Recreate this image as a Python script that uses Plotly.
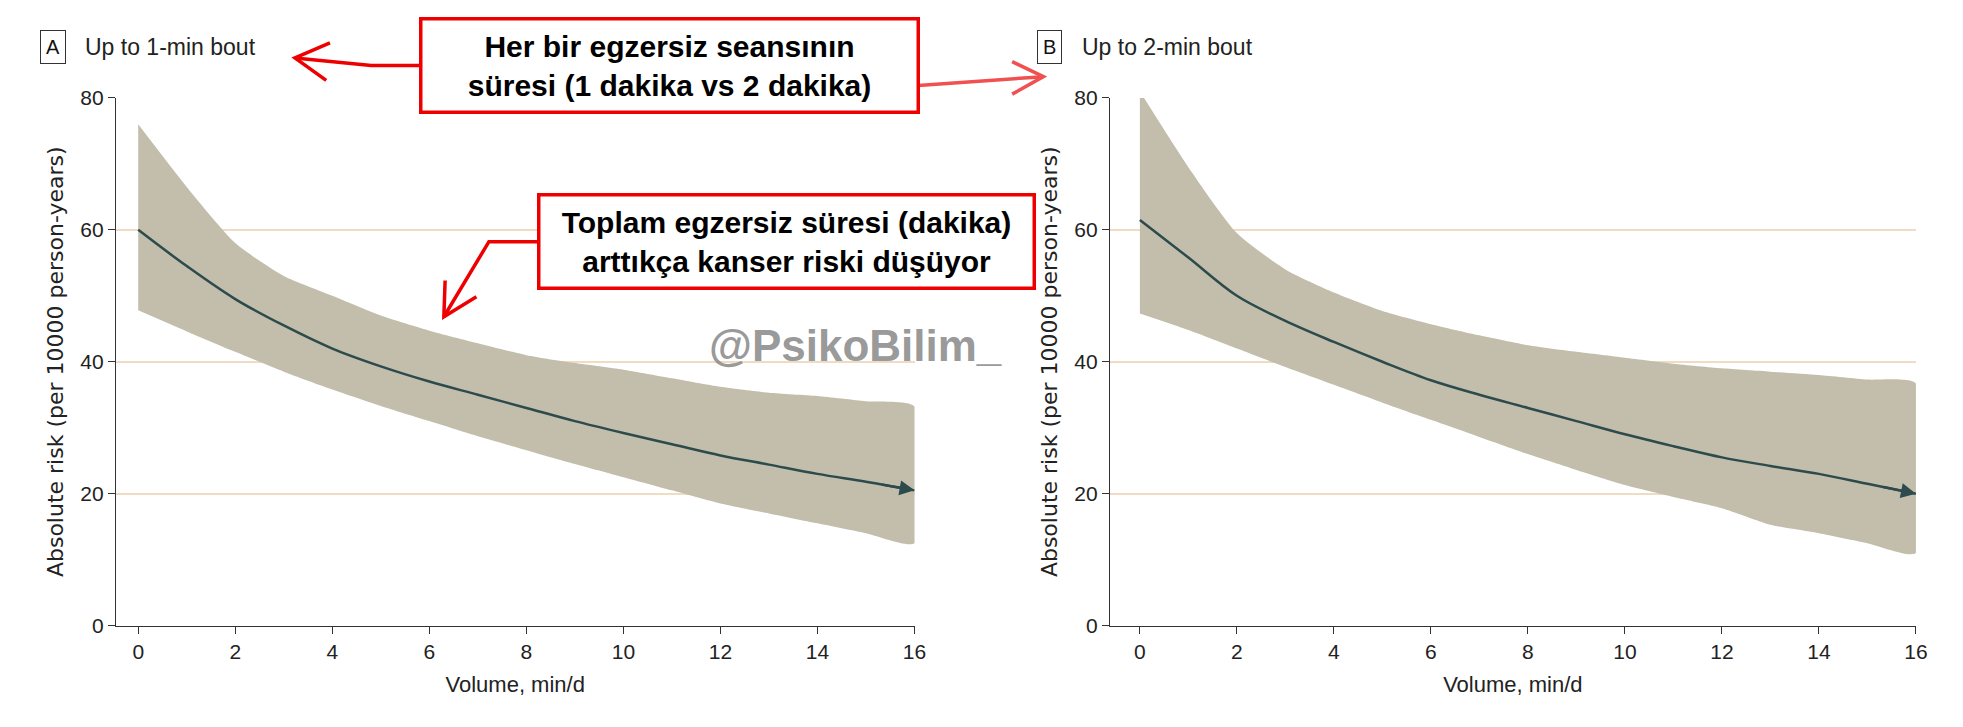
import plotly.graph_objects as go

W, H = 1963, 727
xs = [0, 1, 2, 3, 4, 5, 6, 7, 8, 9, 10, 11, 12, 13, 14, 15, 16]
a_mean = [60, 54.5, 49.5, 45.5, 42, 39.3, 37, 35, 33, 31, 29.2, 27.5, 25.8, 24.4, 23, 21.8, 20.5]
a_up = [76, 66.5, 58, 53, 50, 47, 44.7, 42.8, 41, 39.8, 38.8, 37.5, 36.2, 35.3, 34.8, 34, 33.2]
a_lo = [47.8, 44.6, 41.5, 38.5, 35.8, 33.3, 31, 28.7, 26.6, 24.5, 22.5, 20.5, 18.5, 17, 15.5, 14, 12.5]
b_mean = [61.5, 55.8, 50, 46.2, 43, 40, 37.2, 35, 33, 31, 29, 27.2, 25.5, 24.2, 23, 21.5, 20]
b_up = [81, 69.5, 59.5, 54, 50.5, 47.7, 45.7, 44, 42.5, 41.5, 40.6, 39.7, 39, 38.5, 38, 37.3, 36.7]
b_lo = [47.3, 44.8, 42, 39.2, 36.5, 33.8, 31.2, 28.6, 26, 23.6, 21.3, 19.5, 17.8, 15.3, 14, 12.5, 11]

FILL = "#c2beab"
LINE = "#2d4a4c"
fig = go.Figure()
for xa, ya, up, lo, mn in [("x", "y", a_up, a_lo, a_mean), ("x2", "y2", b_up, b_lo, b_mean)]:
    fig.add_trace(go.Scatter(x=xs + xs[::-1], y=up + lo[::-1], fill="toself", fillcolor=FILL,
                             line=dict(width=0, shape="spline", smoothing=0.6), mode="lines",
                             xaxis=xa, yaxis=ya, hoverinfo="skip"))
    fig.add_trace(go.Scatter(x=xs, y=mn, mode="lines", line=dict(color=LINE, width=2.5, shape="spline"),
                             xaxis=xa, yaxis=ya))
    fig.add_annotation(x=xs[-1], y=mn[-1], ax=xs[-2] + 0.3, ay=mn[-2] - 0.3 * (mn[-2] - mn[-1]),
                       xref=xa, yref=ya, axref=xa, ayref=ya, text="", showarrow=True,
                       arrowhead=2, arrowsize=1.2, arrowwidth=2.5, arrowcolor=LINE)

font = "Liberation Sans Narrow, Arial Narrow, Liberation Sans, sans-serif"

def ax_common(lo):
    return dict(range=[lo, 16], tickvals=list(range(0, 17, 2)), showgrid=False, showline=True,
                linecolor="#333", ticks="outside", ticklen=7, tickcolor="#333",
                tickfont=dict(family=font, size=21, color="#222"), zeroline=False,
                title=dict(text="Volume, min/d", font=dict(family=font, size=22, color="#222"), standoff=14))

ay_common = dict(range=[0, 80], tickvals=[0, 20, 40, 60, 80], showgrid=True, gridcolor="#f0dcc2", gridwidth=2,
                 showline=True, linecolor="#333", ticks="outside", ticklen=7, tickcolor="#333",
                 tickfont=dict(family=font, size=21, color="#222"), zeroline=False,
                 title=dict(text="Absolute risk (per 10000 person-years)",
                            font=dict(family="DejaVu Sans", size=22, color="#222"), standoff=10))

def P(xd, yd):
    return (xd - 5.8) / 1558.6, 1 - (yd - 14.7) / 563.0

yd = [P(0, 499)[1], P(0, 77)[1]]
fig.update_layout(
    width=W, height=H, margin=dict(l=0, r=0, t=0, b=0), showlegend=False,
    paper_bgcolor="white", plot_bgcolor="white",
    xaxis=dict(domain=[P(92, 0)[0], P(730, 0)[0]], **ax_common(-0.46)),
    yaxis=dict(domain=yd, anchor="x", **ay_common),
    xaxis2=dict(domain=[P(886, 0)[0], P(1530, 0)[0]], anchor="y2", **ax_common(-0.62)),
    yaxis2=dict(domain=yd, anchor="x2", **ay_common),
)

for lx, letter, txt in [(42, "A", "Up to 1-min bout"), (838, "B", "Up to 2-min bout")]:
    px, py = P(lx, 36)
    fig.add_annotation(x=px, y=py, xref="paper", yref="paper", text=letter, showarrow=False,
                       font=dict(family=font, size=20, color="#111"), bordercolor="#333", borderwidth=1,
                       borderpad=5, bgcolor="white", xanchor="center", yanchor="middle")
    px, py = P(lx + 24, 36)
    fig.add_annotation(x=px, y=py, xref="paper", yref="paper", text=txt, showarrow=False,
                       font=dict(family=font, size=23, color="#222"), xanchor="left", yanchor="middle")

px, py = P(683, 275)
fig.add_annotation(x=px, y=py, xref="paper", yref="paper", text="<b>@PsikoBilim_</b>", showarrow=False,
                   xanchor="center", yanchor="middle",
                   font=dict(family="Liberation Sans", size=44, color="rgba(140,140,140,0.9)"))

for cx, cy, w, txt in [(534, 51, 490, "Her bir egzersiz seansının<br>süresi (1 dakika vs 2 dakika)"),
                       (628, 192, 488, "Toplam egzersiz süresi (dakika)<br>arttıkça kanser riski düşüyor")]:
    px, py = P(cx, cy)
    fig.add_annotation(x=px, y=py, xref="paper", yref="paper", text="<b>" + txt + "</b>", showarrow=False,
                       xanchor="center", yanchor="middle", width=w, height=86,
                       font=dict(family=font, size=30, color="black"), bgcolor="white",
                       bordercolor="#ee0000", borderwidth=3.5, borderpad=2, align="center")

RED = "#ee0000"

def poly(pts, color, width=3.5):
    d = "M " + " L ".join("%f %f" % P(*p) for p in pts)
    fig.add_shape(type="path", xref="paper", yref="paper", path=d, line=dict(color=color, width=width))

poly([(335, 51), (296, 51), (235, 45)], RED)
poly([(263, 33), (235, 45), (260, 63)], RED)
poly([(733, 67), (833, 60)], "#f05050")
poly([(808, 48), (833, 60), (808, 74)], "#f05050")
poly([(430, 192), (390, 192), (354, 252)], RED)
poly([(355, 223), (354, 252), (380, 236)], RED)

fig.write_html("out.html")
